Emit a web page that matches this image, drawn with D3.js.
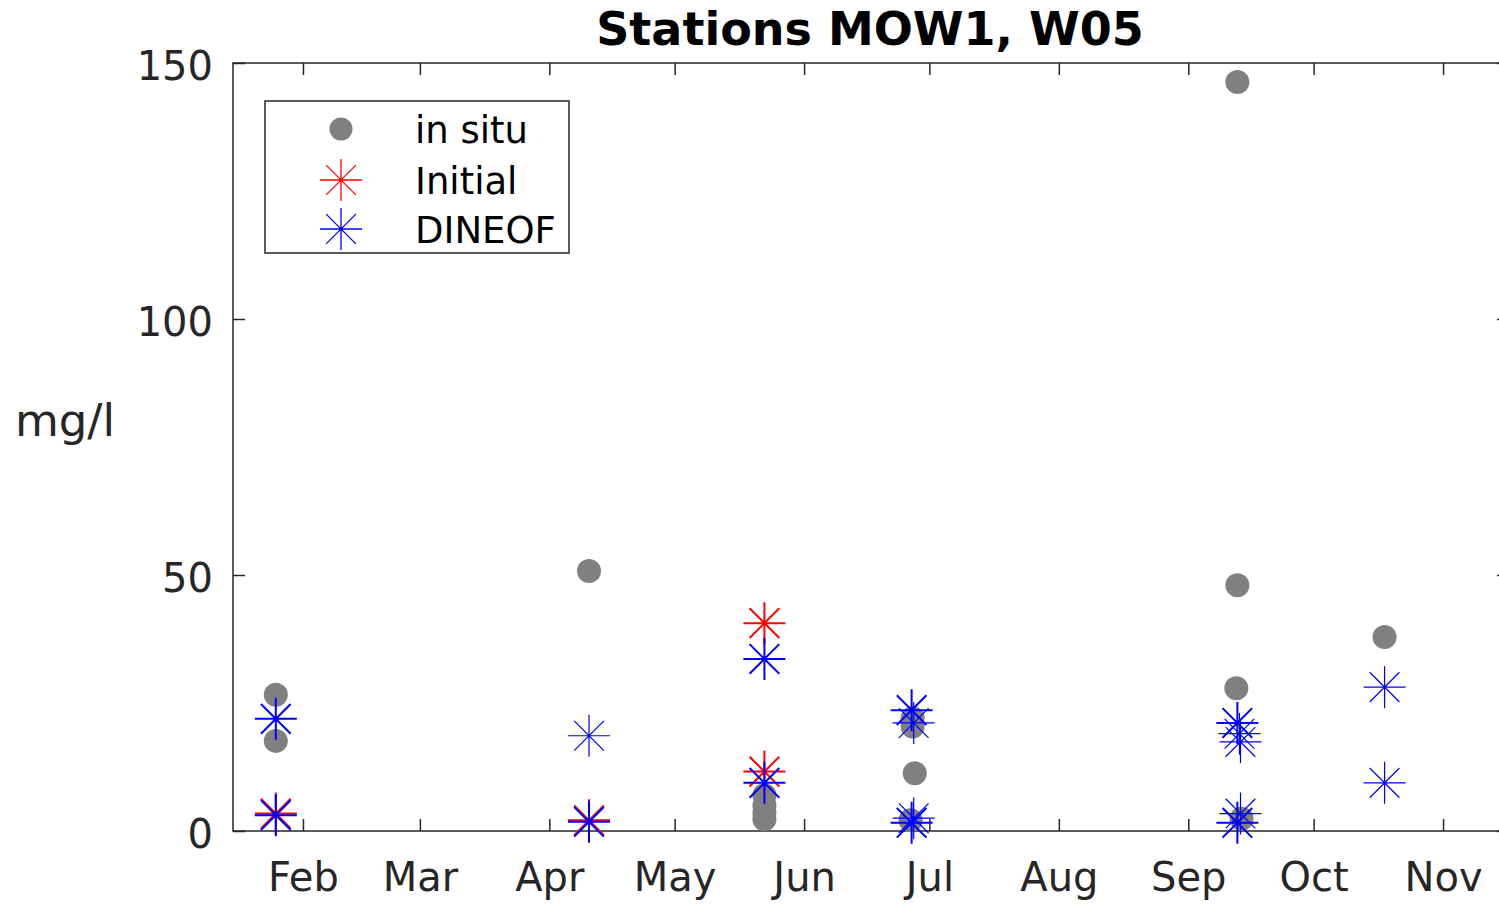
<!DOCTYPE html>
<html>
<head>
<meta charset="utf-8">
<script src="https://cdn.jsdelivr.net/npm/d3@7"></script>
<style>
  html, body { margin: 0; padding: 0; background: #fff; }
  svg { display: block; font-family: "DejaVu Sans", sans-serif; }
</style>
</head>
<body>
<script>
// readings: [date and hour, mg/l]
var inSitu = [
  ["2003-01-25T12", 26.6], ["2003-01-25T12", 17.6],
  ["2003-04-10T12", 50.8],
  ["2003-05-22T12", 7.0], ["2003-05-22T12", 5.0], ["2003-05-22T12", 3.5], ["2003-05-22T12", 2.3],
  ["2003-06-27T00", 22.0], ["2003-06-27T00", 20.4], ["2003-06-27T12", 11.3], ["2003-06-26T12", 2.1],
  ["2003-09-12T18", 146.3], ["2003-09-12T18", 48.0], ["2003-09-12T12", 27.9], ["2003-09-13T18", 2.4],
  ["2003-10-18T00", 37.9]
];

var initialMOW1 = [
  ["2003-01-25T12", 3.4], ["2003-04-10T12", 2.1],
  ["2003-05-22T12", 40.6], ["2003-05-22T12", 11.6]
];

var dineofMOW1 = [
  ["2003-01-25T12", 21.9], ["2003-01-25T12", 3.1],
  ["2003-04-10T12", 1.8],
  ["2003-05-22T12", 33.6], ["2003-05-22T12", 9.4],
  ["2003-06-26T18", 23.6], ["2003-06-26T18", 1.6],
  ["2003-09-12T18", 21.1], ["2003-09-12T18", 1.6]
];

var dineofW05 = [
  ["2003-04-10T12", 18.6],
  ["2003-06-27T06", 21.1], ["2003-06-27T06", 2.5],
  ["2003-09-13T06", 19.0], ["2003-09-13T12", 17.4], ["2003-09-13T12", 3.4],
  ["2003-10-18T00", 28.1], ["2003-10-18T00", 9.4]
];

var monthTicks = ["2003-02-01T00", "2003-03-01T00", "2003-04-01T00", "2003-05-01T00", "2003-06-01T00",
                  "2003-07-01T00", "2003-08-01T00", "2003-09-01T00", "2003-10-01T00", "2003-11-01T00"];
var yTicks = [0, 50, 100, 150];
var legendLabels = ["in situ", "Initial", "DINEOF"];

var parse = d3.utcParse("%Y-%m-%dT%H");
var ink = "#262626";

var svg = d3.select("body").append("svg")
    .attr("width", 1499)
    .attr("height", 907);

// plot box (right edge runs off the window)
var box = {x0: 233, x1: 1509, y0: 63, y1: 831};

var x = d3.scaleUtc()
    .domain([new Date(Date.UTC(2003, 0, 15, 6)), new Date(Date.UTC(2003, 10, 16, 19))])
    .range([box.x0, box.x1]);
var y = d3.scaleLinear().domain([0, 150]).range([box.y1, box.y0]);

// asterisk = 8 arms of equal length
function star(r) {
  var d = r * Math.SQRT1_2;
  return "M" + (-r) + ",0H" + r + "M0," + (-r) + "V" + r +
         "M" + (-d) + "," + (-d) + "L" + d + "," + d +
         "M" + (-d) + "," + d + "L" + d + "," + (-d);
}

var tickDates = monthTicks.map(parse);

// bottom axis
svg.append("g")
    .attr("transform", "translate(0," + box.y1 + ")")
    .call(d3.axisBottom(x).tickValues(tickDates).tickFormat(d3.utcFormat("%b"))
      .tickSizeInner(-12).tickSizeOuter(0).tickPadding(32));
// top ticks
svg.append("g")
    .attr("transform", "translate(0," + box.y0 + ")")
    .call(d3.axisTop(x).tickValues(tickDates).tickFormat("")
      .tickSizeInner(-12).tickSizeOuter(0));
// left axis
var yAxis = svg.append("g")
    .attr("transform", "translate(" + box.x0 + ",0)")
    .call(d3.axisLeft(y).tickValues(yTicks).tickSizeInner(-12).tickSizeOuter(0).tickPadding(20));
yAxis.selectAll("text").attr("dy", "0.4em");
// right ticks
svg.append("g")
    .attr("transform", "translate(" + box.x1 + ",0)")
    .call(d3.axisRight(y).tickValues(yTicks).tickFormat("").tickSizeInner(-12).tickSizeOuter(0));

svg.selectAll(".domain").remove();
svg.selectAll(".tick line").attr("stroke", ink).attr("stroke-width", 1.5);
svg.selectAll(".tick text").attr("fill", ink).style("font-size", "40px")
    .style("font-family", "DejaVu Sans");

svg.append("rect")
    .attr("x", box.x0).attr("y", box.y0)
    .attr("width", box.x1 - box.x0).attr("height", box.y1 - box.y0)
    .attr("fill", "none").attr("stroke", ink).attr("stroke-width", 1.5);

// in situ dots
svg.append("g").selectAll("circle")
  .data(inSitu).enter().append("circle")
    .attr("cx", function(d) { return x(parse(d[0])); })
    .attr("cy", function(d) { return y(d[1]); })
    .attr("r", 12)
    .attr("fill", "#808080");

function drawStars(data, color, width) {
  svg.append("g").selectAll("path")
    .data(data).enter().append("path")
      .attr("transform", function(d) { return "translate(" + x(parse(d[0])) + "," + y(d[1]) + ")"; })
      .attr("d", star(21))
      .attr("fill", "none")
      .attr("stroke", color)
      .attr("stroke-width", width);
}
drawStars(initialMOW1, "#ff0000", 2);
drawStars(dineofW05, "#0000ff", 1.2);
drawStars(dineofMOW1, "#0000ff", 2);

// title and y label
svg.append("text")
    .attr("x", 870).attr("y", 45)
    .attr("text-anchor", "middle")
    .style("font-size", "46px").style("font-weight", "bold")
    .attr("fill", "#000")
    .text("Stations MOW1, W05");

svg.append("text")
    .attr("x", 65).attr("y", 436)
    .attr("text-anchor", "middle")
    .style("font-size", "45px")
    .attr("fill", ink)
    .text("mg/l");

// legend
var legend = svg.append("g");
legend.append("rect")
    .attr("x", 265).attr("y", 101).attr("width", 304).attr("height", 152)
    .attr("fill", "#fff").attr("stroke", ink).attr("stroke-width", 1.5);
var rowY = [129, 180, 229];
legend.append("circle").attr("cx", 341).attr("cy", rowY[0]).attr("r", 11.5).attr("fill", "#808080");
legend.append("path").attr("transform", "translate(341," + rowY[1] + ")").attr("d", star(21))
    .attr("fill", "none").attr("stroke", "#ff0000").attr("stroke-width", 1.3);
legend.append("path").attr("transform", "translate(341," + rowY[2] + ")").attr("d", star(21))
    .attr("fill", "none").attr("stroke", "#0000ff").attr("stroke-width", 1.3);
legend.selectAll("text.lab")
  .data(legendLabels).enter().append("text")
    .attr("class", "lab")
    .attr("x", 415)
    .attr("y", function(d, i) { return rowY[i] + 14; })
    .style("font-size", "37px")
    .attr("fill", "#000")
    .text(function(d) { return d; });
</script>
</body>
</html>
